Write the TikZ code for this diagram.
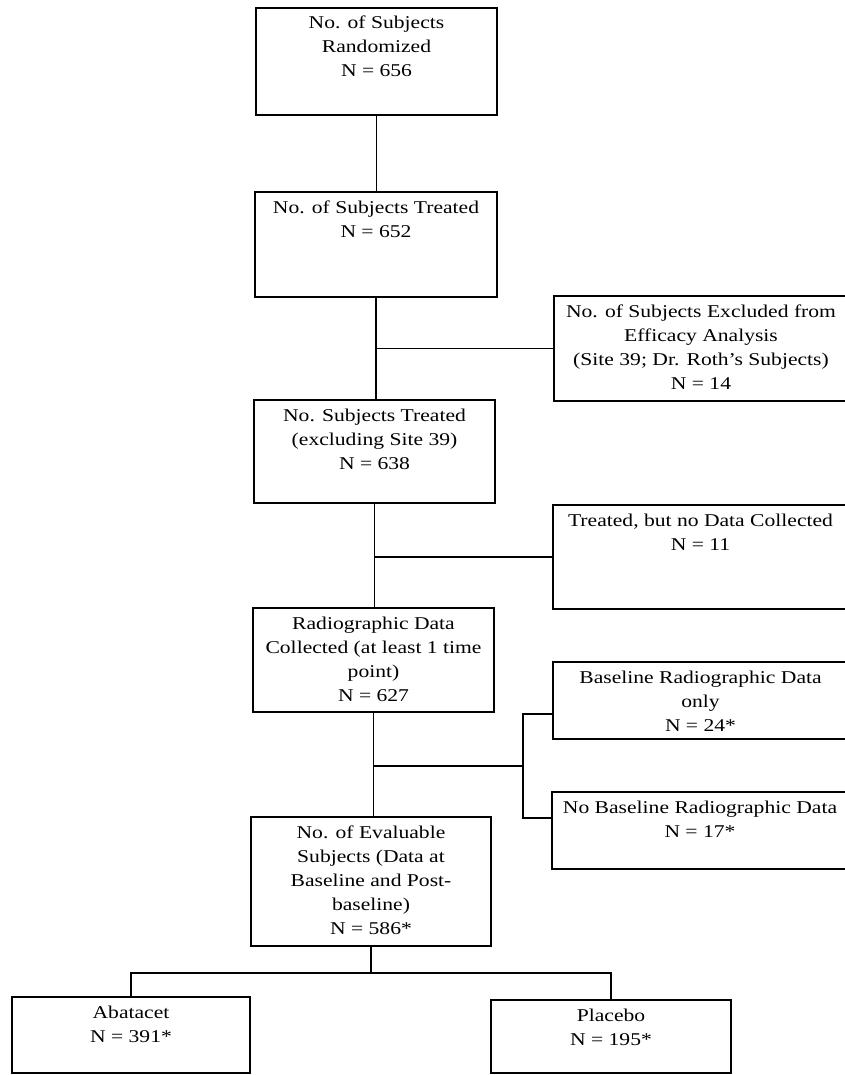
\documentclass[tikz,border=0pt]{standalone}
\usepackage{fontspec}
\setmainfont{Liberation Serif}[FakeStretch=1.2]
% Box body: fixed width and height, text top-aligned and centred
\newcommand{\flowtext}[3]{\parbox[c][#2pt][t]{#1pt}{\centering\rule{0pt}{21pt}#3}}
\tikzset{
  flowbox/.style={draw, line width=1.2pt, inner sep=0pt, outer sep=0pt, anchor=north west},
  link/.style={line width=1.2pt}
}
\begin{document}
\begin{tikzpicture}[x=1pt, y=1pt, font=\fontsize{18}{24}\selectfont]
\useasboundingbox[fill=white] (0,0) rectangle (844,-1075);

% main column
\node[flowbox] (rand)   at (256,-8)   {\flowtext{241}{107}{No. of Subjects\\Randomized\\N = 656}};
\node[flowbox] (treat)  at (255,-192) {\flowtext{242}{105}{No. of Subjects Treated\\N = 652}};
\node[flowbox] (treat2) at (254,-400) {\flowtext{241}{103}{No. Subjects Treated\\(excluding Site 39)\\N = 638}};
\node[flowbox] (radio)  at (253,-608) {\flowtext{241}{104}{Radiographic Data\\Collected (at least 1 time\\point)\\N = 627}};
\node[flowbox] (eval)   at (251,-817) {\flowtext{240}{129}{No. of Evaluable\\Subjects (Data at\\Baseline and Post-\\baseline)\\N = 586*}};

% side boxes
\node[flowbox] (excl)     at (554,-296) {\flowtext{294}{105}{No. of Subjects Excluded from\\Efficacy Analysis\\(Site 39; Dr. Roth's Subjects)\\N = 14}};
\node[flowbox] (nodata)   at (553,-505) {\flowtext{295}{104}{Treated, but no Data Collected\\N = 11}};
\node[flowbox] (baseonly) at (553,-662) {\flowtext{295}{77}{Baseline Radiographic Data\\only\\N = 24*}};
\node[flowbox] (nobase)   at (552,-792) {\flowtext{296}{77}{No Baseline Radiographic Data\\N = 17*}};

% treatment arms
\node[flowbox] (abat) at (12,-997)   {\flowtext{238}{76}{Abatacet\\N = 391*}};
\node[flowbox] (plac) at (491,-1000) {\flowtext{240}{73}{Placebo\\N = 195*}};

% junction points
\coordinate (sj) at (523,-766);
\coordinate (split) at (371,-973);

% trunk
\draw[link] (rand.south) -- (rand.south |- treat.north);
\draw[link] (treat.south) -- (treat.south |- treat2.north);
\draw[link] (treat2.south) -- (treat2.south |- radio.north);
\draw[link] (radio.south) -- (radio.south |- eval.north);
\draw[link] (eval.south) -- (eval.south |- split);

% side branches
\draw[link] (treat.south |- excl.west) -- (excl.west);
\draw[link] (treat2.south |- nodata.west) -- (nodata.west);
\draw[link] (radio.south |- sj) -- (sj);
\draw[link] ([yshift=-13.5pt]baseonly.west) -| (sj) |- ([yshift=12.5pt]nobase.west);

% split into arms
\draw[link] (abat.north) |- (plac.north |- split) -- (plac.north);
\end{tikzpicture}
\end{document}
